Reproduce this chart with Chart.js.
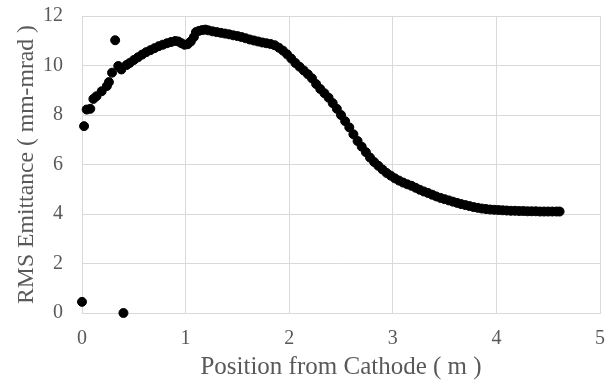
<!DOCTYPE html>
<html>
<head>
<meta charset="utf-8">
<script src="https://cdn.jsdelivr.net/npm/chart.js@4.4.1/dist/chart.umd.min.js"></script>
<style>
  html, body { margin: 0; padding: 0; background: #fff; }
  #wrap { width: 607px; height: 386px; }
</style>
</head>
<body>
<div id="wrap"><canvas id="chart" width="607" height="386"></canvas></div>
<script>
// position from cathode (m) and rms emittance (mm-mrad)
const positions = [
  0.00, 0.40, 0.02, 0.045, 0.08, 0.11, 0.14, 0.19, 0.24, 0.26, 0.29, 0.32, 0.35, 0.38,
  0.43, 0.46, 0.50, 0.54, 0.58, 0.62, 0.66, 0.70, 0.74, 0.78, 0.82, 0.86, 0.90, 0.93,
  0.96, 0.99, 1.02, 1.05, 1.08, 1.10, 1.13, 1.16, 1.19, 1.22, 1.26, 1.30, 1.34, 1.38,
  1.42, 1.46, 1.50, 1.54, 1.58, 1.62, 1.66, 1.70, 1.74, 1.78, 1.82, 1.86, 1.90, 1.94,
  1.98, 2.02, 2.06, 2.10, 2.14, 2.18, 2.22, 2.26, 2.30, 2.34, 2.38, 2.42, 2.46, 2.50,
  2.54, 2.58, 2.62, 2.66, 2.70, 2.74, 2.78, 2.82, 2.86, 2.90, 2.94, 2.98, 3.02, 3.06,
  3.10, 3.14, 3.18, 3.22, 3.26, 3.30, 3.34, 3.38, 3.42, 3.46, 3.50, 3.54, 3.58, 3.62,
  3.66, 3.70, 3.74, 3.78, 3.82, 3.86, 3.90, 3.94, 3.98, 4.02, 4.06, 4.10, 4.14, 4.18,
  4.22, 4.26, 4.30, 4.34, 4.38, 4.42, 4.46, 4.50, 4.54, 4.58, 4.61
];
const emittance = [
  0.45, 0.00, 7.55, 8.22, 8.25, 8.65, 8.76, 8.96, 9.17, 9.33, 9.71, 11.02, 9.98, 9.84,
  10.02, 10.10, 10.22, 10.33, 10.44, 10.54, 10.62, 10.70, 10.78, 10.84, 10.90, 10.95, 10.99, 10.97,
  10.90, 10.84, 10.86, 10.97, 11.15, 11.35, 11.40, 11.43, 11.45, 11.42, 11.38, 11.35, 11.32, 11.29,
  11.26, 11.22, 11.19, 11.15, 11.10, 11.05, 11.01, 10.97, 10.93, 10.90, 10.87, 10.82, 10.72, 10.60,
  10.45, 10.28, 10.10, 9.95, 9.80, 9.65, 9.48, 9.25, 9.05, 8.88, 8.70, 8.48, 8.25, 8.00,
  7.75, 7.50, 7.22, 6.95, 6.72, 6.50, 6.28, 6.10, 5.95, 5.80, 5.66, 5.55, 5.44, 5.35,
  5.27, 5.20, 5.14, 5.06, 4.98, 4.91, 4.85, 4.78, 4.71, 4.65, 4.60, 4.55, 4.50, 4.45,
  4.40, 4.36, 4.32, 4.28, 4.25, 4.22, 4.20, 4.18, 4.17, 4.16, 4.15, 4.14, 4.13, 4.13,
  4.12, 4.12, 4.11, 4.11, 4.11, 4.10, 4.10, 4.10, 4.10, 4.10, 4.10
];
const xTicks = [0, 1, 2, 3, 4, 5];
const yTicks = [0, 2, 4, 6, 8, 10, 12];

const font = "'Liberation Serif', 'Times New Roman', serif";
const textColor = "#595959";
const gridColor = "#d9d9d9";

const points = positions.map((x, i) => ({ x, y: emittance[i] }));

function noOverflow(s) {
  s.paddingTop = 0;
  s.paddingBottom = 0;
  s.paddingLeft = 0;
  s.paddingRight = 0;
}

new Chart(document.getElementById("chart"), {
  type: "scatter",
  data: {
    datasets: [
      {
        data: points,
        backgroundColor: "#000",
        borderColor: "#000",
        pointRadius: 4.5,
        pointHoverRadius: 4.5,
        clip: false,
      },
    ],
  },
  options: {
    responsive: false,
    animation: false,
    layout: { padding: { top: 16, right: 7, left: 0, bottom: 0 } },
    plugins: { legend: { display: false }, tooltip: { enabled: false } },
    scales: {
      x: {
        type: "linear",
        min: xTicks[0],
        max: xTicks[xTicks.length - 1],
        afterBuildTicks: (s) => { s.ticks = xTicks.map((v) => ({ value: v })); },
        afterFit: (s) => { s.height = 73; noOverflow(s); },
        grid: { color: gridColor, drawTicks: false },
        border: { color: gridColor },
        ticks: { color: textColor, font: { family: font, size: 20 }, padding: 14 },
        title: {
          display: true,
          text: "Position from Cathode ( m )",
          color: textColor,
          font: { family: font, size: 25 },
          padding: { top: 0, bottom: 4 },
        },
      },
      y: {
        type: "linear",
        min: yTicks[0],
        max: yTicks[yTicks.length - 1],
        afterBuildTicks: (s) => { s.ticks = yTicks.map((v) => ({ value: v })); },
        afterFit: (s) => { s.width = 82; noOverflow(s); },
        grid: { color: gridColor, drawTicks: false },
        border: { color: gridColor },
        ticks: { color: textColor, font: { family: font, size: 20 }, padding: 19 },
        title: {
          display: true,
          text: "RMS Emittance ( mm-mrad )",
          color: textColor,
          font: { family: font, size: 23.7 },
          padding: { top: 13, bottom: 0 },
        },
      },
    },
  },
});
</script>
</body>
</html>
